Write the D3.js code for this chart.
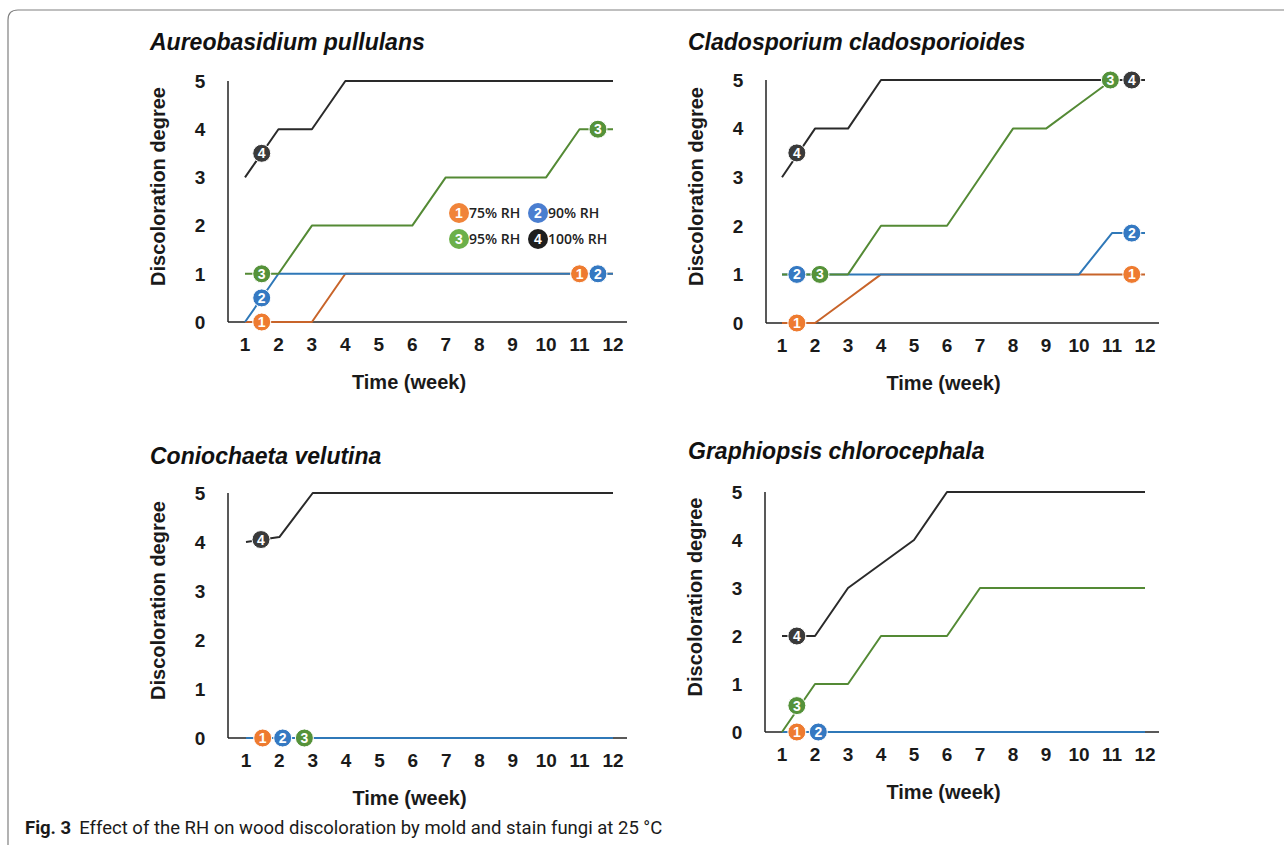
<!DOCTYPE html>
<html>
<head>
<meta charset="utf-8">
<script src="https://cdn.jsdelivr.net/npm/d3@7"></script>
<style>
  body { margin: 0; background: #fff; }
  svg { display: block; }
  .tick-label { font-family: "Liberation Sans", Arial, sans-serif; font-weight: bold; font-size: 19px; fill: #1a1a1a; }
  .axis-title { font-family: "Liberation Sans", Arial, sans-serif; font-weight: bold; font-size: 20px; fill: #1a1a1a; }
  .panel-title { font-family: "Liberation Sans", Arial, sans-serif; font-weight: bold; font-style: italic; font-size: 23px; fill: #111; }
  .marker-num { font-family: "Liberation Sans", Arial, sans-serif; font-weight: bold; font-size: 14px; fill: #fff; }
  .legend-text { font-family: "Open Sans", "Noto Sans", sans-serif; font-weight: 600; font-size: 14px; fill: #222; }
</style>
</head>
<body>
<script>
// Weeks on the x axis
const weeks = [1, 2, 3, 4, 5, 6, 7, 8, 9, 10, 11, 12];
const degreeTicks = [0, 1, 2, 3, 4, 5];

// Series: 1 = 75% RH, 2 = 90% RH, 3 = 95% RH, 4 = 100% RH
const seriesNames = ["75% RH", "90% RH", "95% RH", "100% RH"];
const lineColors = ["#c8642a", "#2f78b8", "#548a35", "#2a2a2a"];
const markerColors = ["#ee7b30", "#3579c2", "#55923a", "#3a3a3a"];
const legendColors = ["#f0843a", "#4a7ed0", "#6cb04a", "#1e1e1e"];

// Aureobasidium pullulans
const aureoRH75 = [0, 0, 0, 1, 1, 1, 1, 1, 1, 1, 1, 1];
const aureoRH90 = [0, 1, 1, 1, 1, 1, 1, 1, 1, 1, 1, 1];
const aureoRH95 = [1, 1, 2, 2, 2, 2, 3, 3, 3, 3, 4, 4];
const aureoRH100 = [3, 4, 4, 5, 5, 5, 5, 5, 5, 5, 5, 5];
const aureoMarkers = [[0, 1.5, 0], [1, 1.5, 0.5], [2, 1.5, 1], [3, 1.5, 3.5], [0, 11.0, 1], [1, 11.55, 1], [2, 11.55, 4]];

// Cladosporium cladosporioides
const cladoRH75 = [0, 0, 0.5, 1, 1, 1, 1, 1, 1, 1, 1, 1];
const cladoRH90 = [1, 1, 1, 1, 1, 1, 1, 1, 1, 1, 1.85, 1.85];
const cladoRH95 = [1, 1, 1, 2, 2, 2, 3, 4, 4, 4.5, 5, 5];
const cladoRH100 = [3, 4, 4, 5, 5, 5, 5, 5, 5, 5, 5, 5];
const cladoMarkers = [[0, 1.45, 0], [1, 1.45, 1], [2, 2.15, 1], [3, 1.45, 3.5], [2, 10.95, 5], [3, 11.6, 5], [1, 11.6, 1.85], [0, 11.6, 1]];

// Coniochaeta velutina
const conioRH75 = [0, 0, 0, 0, 0, 0, 0, 0, 0, 0, 0, 0];
const conioRH90 = [0, 0, 0, 0, 0, 0, 0, 0, 0, 0, 0, 0];
const conioRH95 = [0, 0, 0, 0, 0, 0, 0, 0, 0, 0, 0, 0];
const conioRH100 = [4, 4.1, 5, 5, 5, 5, 5, 5, 5, 5, 5, 5];
const conioMarkers = [[3, 1.45, 4.05], [0, 1.5, 0], [1, 2.1, 0], [2, 2.75, 0]];

// Graphiopsis chlorocephala
const graphRH75 = [0, 0, 0, 0, 0, 0, 0, 0, 0, 0, 0, 0];
const graphRH90 = [0, 0, 0, 0, 0, 0, 0, 0, 0, 0, 0, 0];
const graphRH95 = [0, 1, 1, 2, 2, 2, 3, 3, 3, 3, 3, 3];
const graphRH100 = [2, 2, 3, 3.5, 4, 5, 5, 5, 5, 5, 5, 5];
const graphMarkers = [[3, 1.45, 2], [2, 1.45, 0.55], [0, 1.45, 0], [1, 2.1, 0]];

const panels = [
  { title: "Aureobasidium pullulans", series: [aureoRH75, aureoRH90, aureoRH95, aureoRH100], markers: aureoMarkers,
    order: [0, 1, 2, 3], axisX: 228, x1: 245, x12: 613, y0: 322, y5: 81, titleX: 150, titleY: 50, legend: true },
  { title: "Cladosporium cladosporioides", series: [cladoRH75, cladoRH90, cladoRH95, cladoRH100], markers: cladoMarkers,
    order: [0, 1, 2, 3], axisX: 766, x1: 782, x12: 1145, y0: 323, y5: 80, titleX: 688, titleY: 50 },
  { title: "Coniochaeta velutina", series: [conioRH75, conioRH90, conioRH95, conioRH100], markers: conioMarkers,
    order: [0, 2, 1, 3], axisX: 228, x1: 246, x12: 613, y0: 738, y5: 493, titleX: 150, titleY: 464 },
  { title: "Graphiopsis chlorocephala", series: [graphRH75, graphRH90, graphRH95, graphRH100], markers: graphMarkers,
    order: [0, 1, 2, 3], axisX: 765, x1: 782, x12: 1145, y0: 732, y5: 492, titleX: 688, titleY: 459 }
];

const W = 1284, H = 845;
const svg = d3.select("body").append("svg").attr("width", W).attr("height", H);

// Figure frame (open on right/bottom, rounded top-left)
svg.append("path")
  .attr("d", "M8,845 L8,20 Q8,10 18,10 L1284,10")
  .attr("fill", "none")
  .attr("stroke", "#808080")
  .attr("stroke-width", 1.2);

panels.forEach((p) => {
  const x = d3.scaleLinear().domain([1, 12]).range([p.x1, p.x12]);
  const y = d3.scaleLinear().domain([0, 5]).range([p.y0, p.y5]);
  const g = svg.append("g");

  // Title
  g.append("text").attr("class", "panel-title")
    .attr("x", p.titleX).attr("y", p.titleY).text(p.title);

  // Axes lines
  g.append("line").attr("x1", p.axisX).attr("x2", p.axisX).attr("y1", y(5)).attr("y2", y(0))
    .attr("stroke", "#222").attr("stroke-width", 1.5);
  g.append("line").attr("x1", p.axisX).attr("x2", x(12) + 14).attr("y1", y(0)).attr("y2", y(0))
    .attr("stroke", "#222").attr("stroke-width", 1.5);

  // Y tick labels
  g.selectAll(".ytick").data(degreeTicks).join("text")
    .attr("class", "tick-label")
    .attr("x", p.axisX - 28).attr("y", (d) => y(d))
    .attr("dy", "0.36em").attr("text-anchor", "middle")
    .text((d) => d);

  // X tick labels
  g.selectAll(".xtick").data(weeks).join("text")
    .attr("class", "tick-label")
    .attr("x", (d) => x(d)).attr("y", y(0) + 22)
    .attr("dy", "0.36em").attr("text-anchor", "middle")
    .text((d) => d);

  // Axis titles
  g.append("text").attr("class", "axis-title")
    .attr("x", (x(1) + x(12)) / 2 - 20).attr("y", y(0) + 67)
    .attr("text-anchor", "middle").text("Time (week)");
  g.append("text").attr("class", "axis-title")
    .attr("transform", `translate(${p.axisX - 70},${(y(0) + y(5)) / 2 - 15}) rotate(-90)`)
    .attr("dy", "0.36em").attr("text-anchor", "middle").text("Discoloration degree");

  // Lines
  const line = d3.line().x((d, i) => x(weeks[i])).y((d) => y(d));
  p.order.forEach((si) => {
    g.append("path").datum(p.series[si])
      .attr("d", line)
      .attr("fill", "none")
      .attr("stroke", lineColors[si])
      .attr("stroke-width", 2)
      .attr("stroke-linejoin", "round");
  });

  // Number markers
  const m = g.selectAll(".marker").data(p.markers).join("g")
    .attr("transform", (d) => `translate(${x(d[1])},${y(d[2])})`);
  m.append("circle").attr("r", 9)
    .attr("fill", (d) => markerColors[d[0]])
    .attr("stroke", "#fff").attr("stroke-width", 1);
  m.append("text").attr("class", "marker-num")
    .attr("text-anchor", "middle").attr("dy", "0.36em")
    .text((d) => d[0] + 1);

  // Legend
  if (p.legend) {
    const cols = [459, 538];
    const rows = [213, 239];
    seriesNames.forEach((name, i) => {
      const lx = cols[i % 2], ly = rows[Math.floor(i / 2)];
      const lg = g.append("g").attr("transform", `translate(${lx},${ly})`);
      lg.append("circle").attr("r", 10).attr("fill", legendColors[i]);
      lg.append("text").attr("class", "marker-num").attr("font-size", "14px")
        .attr("text-anchor", "middle").attr("dy", "0.36em").text(i + 1);
      lg.append("text").attr("class", "legend-text").attr("x", 10).attr("dy", "0.36em").text(name);
    });
  }
});

// Caption
const cap = svg.append("text").attr("x", 25).attr("y", 834)
  .attr("font-family", "Roboto, 'Noto Sans', sans-serif")
  .attr("font-size", "18.5px").attr("fill", "#1a1a1a");
cap.append("tspan").attr("font-weight", "bold").text("Fig. 3");
cap.append("tspan").attr("dx", 8).text("Effect of the RH on wood discoloration by mold and stain fungi at 25 °C");
</script>
</body>
</html>
